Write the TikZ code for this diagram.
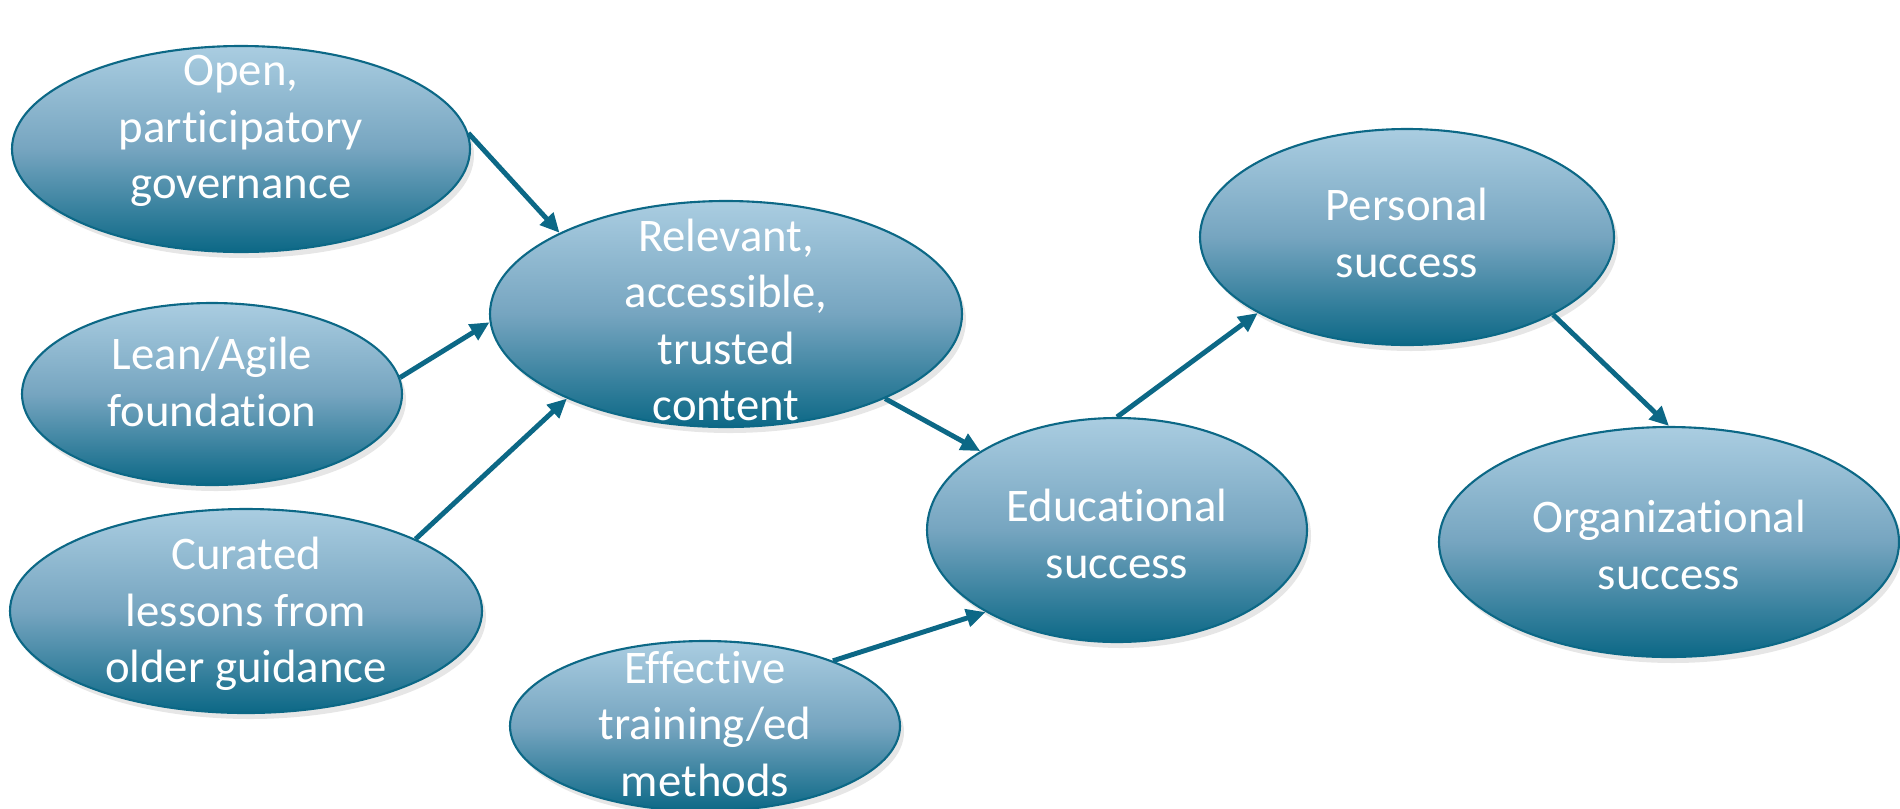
\documentclass[tikz,border=0pt]{standalone}
\usepackage{fontspec}
\setmainfont{Carlito}[RawFeature={-liga;-clig;-dlig;-calt;-rlig}]
\usetikzlibrary{arrows.meta,shapes.geometric,shadows}
\definecolor{tealdark}{RGB}{12,104,134}
\definecolor{bluelight}{RGB}{170,205,225}
\definecolor{bluemid}{RGB}{118,165,192}

\begin{document}
\begin{tikzpicture}
	\tikzstyle{Bubble} = [ellipse,draw=tealdark,line width=0.6pt,inner sep=0pt,
	top color=bluelight,bottom color=tealdark,middle color=bluemid,
	drop shadow={opacity=0.2,shadow xshift=0.4mm,shadow yshift=-0.6mm}]
	\tikzstyle{Words} = [text=white,align=center,font=\fontsize{13.3}{16}\selectfont]
	\tikzstyle{Link} = [-{Triangle[length=5.5pt,width=5pt]},line width=1.4pt,draw=tealdark]
	\useasboundingbox (0,0) rectangle (19,-8.08);
	% the ellipses
	\node[Bubble,minimum width=4.58cm,minimum height=2.06cm] (open) at (2.41,-1.49) {};
	\node[Bubble,minimum width=3.80cm,minimum height=1.82cm] (lean) at (2.12,-3.94) {};
	\node[Bubble,minimum width=4.72cm,minimum height=2.04cm] (cur) at (2.46,-6.11) {};
	\node[Bubble,minimum width=4.72cm,minimum height=2.26cm] (rel) at (7.26,-3.14) {};
	\node[Bubble,minimum width=3.90cm,minimum height=1.70cm] (eff) at (7.05,-7.26) {};
	\node[Bubble,minimum width=3.80cm,minimum height=2.24cm] (edu) at (11.17,-5.30) {};
	\node[Bubble,minimum width=4.14cm,minimum height=2.16cm] (pers) at (14.07,-2.37) {};
	\node[Bubble,minimum width=4.60cm,minimum height=2.30cm] (org) at (16.69,-5.42) {};
	% their texts
	\node[Words] (open-t) at (2.41,-1.31) {Open,\\participatory\\governance};
	\node[Words] (lean-t) at (2.12,-3.82) {Lean/Agile\\foundation};
	\node[Words] (cur-t) at (2.46,-6.14) {Curated\\lessons from\\older guidance};
	\node[Words] (rel-t) at (7.26,-3.20) {Relevant,\\accessible,\\trusted\\content};
	\node[Words] (eff-t) at (7.05,-7.24) {Effective\\training/ed\\methods};
	\node[Words] (edu-t) at (11.17,-5.34) {Educational\\success};
	\node[Words] (pers-t) at (14.07,-2.33) {Personal\\success};
	\node[Words] (org-t) at (16.69,-5.45) {Organizational\\success};
	% arrows
	\draw[Link] (open.4.5) -- (rel.154);
	\draw[Link] (lean.5) -- (rel.182);
	\draw[Link] (cur.23) -- (rel.208);
	\draw[Link] (rel.-28) -- (edu.150);
	\draw[Link] (eff.27) -- (edu.212);
	\draw[Link] (edu.90) -- (pers.207);
	\draw[Link] (pers.-28) -- (org.90);
\end{tikzpicture}
\end{document}
